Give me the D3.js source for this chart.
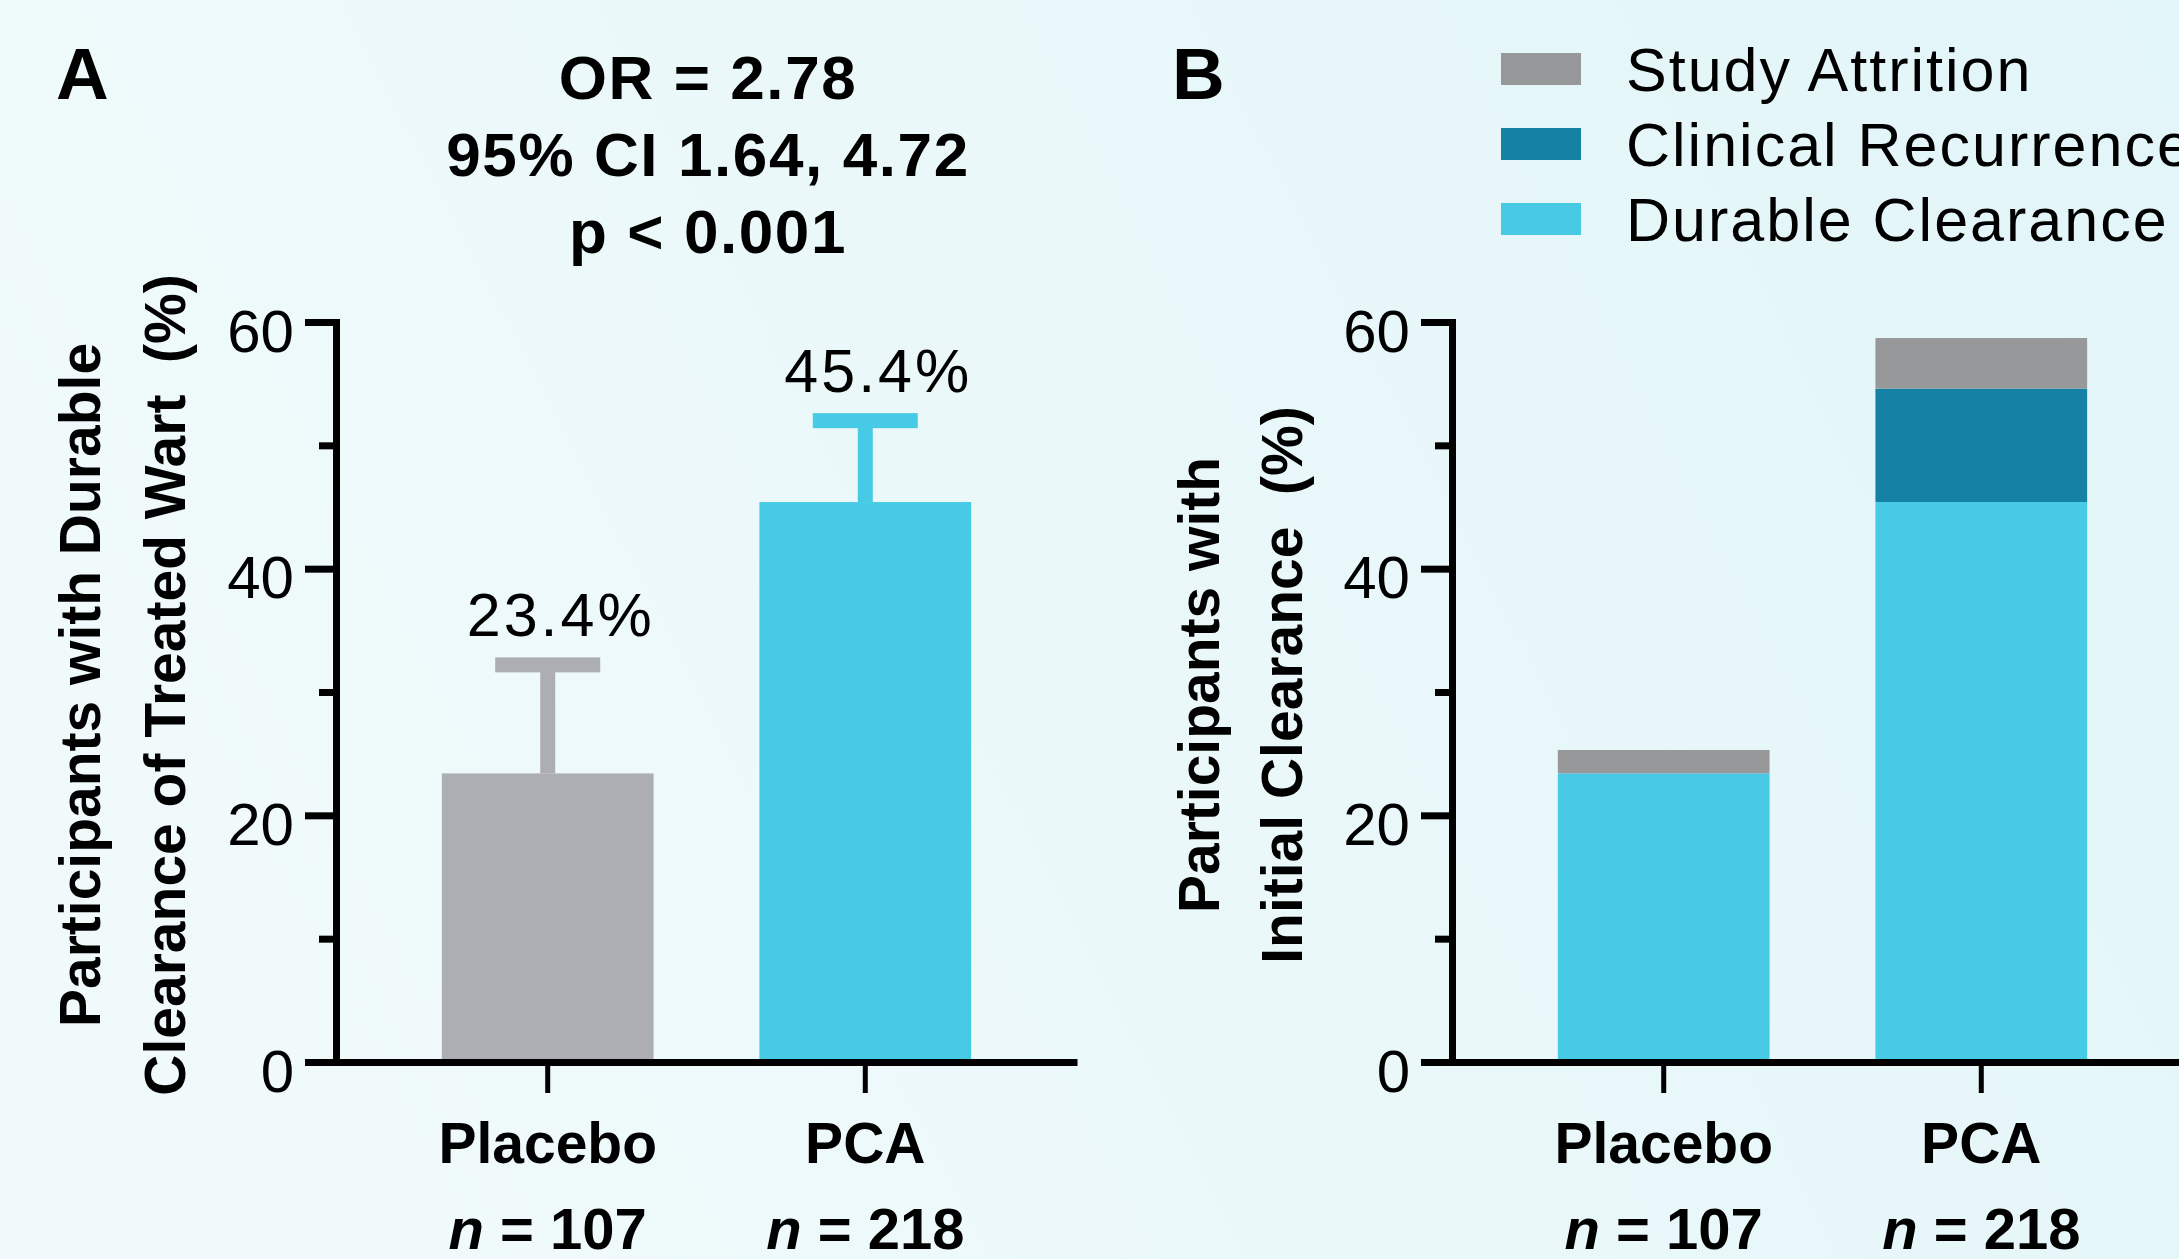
<!DOCTYPE html>
<html lang="en">
<head>
<meta charset="utf-8">
<script src="https://cdn.jsdelivr.net/npm/d3@7"></script>
<style>
body { margin: 0; background: #eaf8fa; }
svg { display: block; font-family: "Liberation Sans", Arial, sans-serif; }
</style>
</head>
<body>
<div id="chart"></div>
<script>
// data (percent of participants)
var groups = ["Placebo", "PCA"];
var groupN = ["107", "218"];
var durable = [23.4, 45.4];
var durableUpper = [32.2, 52.0];   // upper 95% CI, panel A
var recurrence = [0, 9.2];
var attrition = [1.9, 4.1];
var statLines = ["OR = 2.78", "95% CI 1.64, 4.72", "p < 0.001"];
var legendLabels = ["Study Attrition", "Clinical Recurrence", "Durable Clearance"];
var yMajor = [0, 20, 40, 60];
var yMinor = [10, 30, 50];

var W = 2179, H = 1259;
var colA = ["#adaeb3", "#46cae6"];
var colStack = {durable: "#46cae6", recurrence: "#1481a5", attrition: "#97989a"};

var svg = d3.select("#chart").append("svg")
	.attr("width", W)
	.attr("height", H);

var grad = svg.append("defs").append("linearGradient")
	.attr("id", "bg")
	.attr("x1", 0).attr("y1", 0.3).attr("x2", 1).attr("y2", 0);
grad.append("stop").attr("offset", 0).attr("stop-color", "#f0fafb");
grad.append("stop").attr("offset", 1).attr("stop-color", "#e2f5f8");
svg.append("rect").attr("width", W).attr("height", H).attr("fill", "url(#bg)");

var y = d3.scaleLinear().domain([0, 60]).range([1062, 322]);

function drawAxes(x, titleLines, titleX) {
	var x0 = x.range()[0];
	var gx = svg.append("g")
		.attr("transform", "translate(0," + y(0) + ")")
		.call(d3.axisBottom(x).tickSize(31).tickSizeOuter(0).tickPadding(0));
	gx.select(".domain").attr("stroke-width", 7);
	gx.selectAll(".tick line").attr("stroke-width", 5);
	gx.selectAll(".tick text")
		.attr("y", 101).attr("dy", 0)
		.attr("font-size", 57).attr("font-weight", "bold").attr("fill", "#000");

	// sample sizes under the category names
	var nt = svg.append("g").selectAll("text")
		.data(groups)
		.enter().append("text")
		.attr("x", function(d) { return x(d) + x.bandwidth() / 2; })
		.attr("y", 1249)
		.attr("text-anchor", "middle")
		.attr("font-size", 58)
		.attr("font-weight", "bold");
	nt.append("tspan").attr("font-style", "italic").text("n");
	nt.append("tspan").text(function(d, i) { return " = " + groupN[i]; });

	var gMinor = svg.append("g")
		.attr("transform", "translate(" + x0 + ",0)")
		.call(d3.axisLeft(y).tickValues(yMinor).tickSize(17).tickFormat(""));
	gMinor.select(".domain").remove();
	gMinor.selectAll(".tick line").attr("stroke-width", 7);

	var gy = svg.append("g")
		.attr("transform", "translate(" + x0 + ",0)")
		.call(d3.axisLeft(y).tickValues(yMajor).tickSize(31).tickSizeOuter(0).tickPadding(11));
	gy.select(".domain").attr("stroke-width", 7).attr("stroke-linecap", "square");
	gy.selectAll(".tick line").attr("stroke-width", 7);
	gy.selectAll(".tick text")
		.attr("dy", 29)
		.attr("font-size", 60)
		.attr("fill", "#000");

	svg.append("g").selectAll("text")
		.data(titleLines)
		.enter().append("text")
		.attr("transform", function(d, i) { return "translate(" + titleX[i] + ",685) rotate(-90)"; })
		.attr("text-anchor", "middle")
		.attr("font-size", 57)
		.attr("font-weight", "bold")
		.style("white-space", "pre")
		.text(function(d) { return d; });
}

// ---- panel A ----
var xA = d3.scaleBand().domain(groups).range([336, 1077]).paddingInner(1 / 3).paddingOuter(1 / 3);
var bw = xA.bandwidth();

var ebar = svg.append("g").selectAll("g")
	.data(groups)
	.enter().append("g")
	.attr("fill", function(d, i) { return colA[i]; });
ebar.append("rect")
	.attr("x", function(d) { return xA(d) + bw / 2 - 7.5; })
	.attr("y", function(d, i) { return y(durableUpper[i]); })
	.attr("width", 15)
	.attr("height", function(d, i) { return y(durable[i]) - y(durableUpper[i]); });
ebar.append("rect")
	.attr("x", function(d) { return xA(d) + bw / 2 - 52.5; })
	.attr("y", function(d, i) { return y(durableUpper[i]) - 7.5; })
	.attr("width", 105)
	.attr("height", 15);

svg.append("g").selectAll("rect")
	.data(groups)
	.enter().append("rect")
	.attr("x", function(d) { return xA(d); })
	.attr("y", function(d, i) { return y(durable[i]); })
	.attr("width", bw)
	.attr("height", function(d, i) { return y(0) - y(durable[i]); })
	.attr("fill", function(d, i) { return colA[i]; });

svg.append("g").selectAll("text")
	.data(groups)
	.enter().append("text")
	.attr("x", function(d) { return xA(d) + bw / 2 + 13; })
	.attr("y", function(d, i) { return y(durableUpper[i]) - 28.5; })
	.attr("text-anchor", "middle")
	.attr("font-size", 61)
	.attr("letter-spacing", 3)
	.text(function(d, i) { return durable[i].toFixed(1) + "%"; });

drawAxes(xA, ["Participants with Durable", "Clearance of Treated Wart  (%)"], [100, 185]);

svg.append("g").selectAll("text")
	.data(statLines)
	.enter().append("text")
	.attr("x", 708)
	.attr("y", function(d, i) { return 99 + i * 77; })
	.attr("text-anchor", "middle")
	.attr("font-size", 62)
	.attr("letter-spacing", 1.6)
	.attr("font-weight", "bold")
	.text(function(d) { return d; });

// ---- panel B ----
var xB = d3.scaleBand().domain(groups).range([1452, 2193]).paddingInner(1 / 3).paddingOuter(1 / 3);
var keys = ["durable", "recurrence", "attrition"];
var table = groups.map(function(g, i) {
	return {group: g, durable: durable[i], recurrence: recurrence[i], attrition: attrition[i]};
});
var series = d3.stack().keys(keys)(table);

svg.append("g").selectAll("g")
	.data(series)
	.enter().append("g")
	.attr("fill", function(d) { return colStack[d.key]; })
	.selectAll("rect")
	.data(function(d) { return d; })
	.enter().append("rect")
	.attr("x", function(d) { return xB(d.data.group); })
	.attr("y", function(d) { return y(d[1]); })
	.attr("width", xB.bandwidth())
	.attr("height", function(d) { return y(d[0]) - y(d[1]); });

drawAxes(xB, ["Participants with", "Initial Clearance  (%)"], [1219, 1302]);

// legend
var legKeys = ["attrition", "recurrence", "durable"];
var leg = svg.append("g").selectAll("g")
	.data(legendLabels)
	.enter().append("g")
	.attr("transform", function(d, i) { return "translate(1501," + (69 + i * 75) + ")"; });
leg.append("rect")
	.attr("y", -16)
	.attr("width", 80)
	.attr("height", 32)
	.attr("fill", function(d, i) { return colStack[legKeys[i]]; });
leg.append("text")
	.attr("x", 125)
	.attr("y", 22)
	.attr("font-size", 61)
	.attr("letter-spacing", 2)
	.text(function(d) { return d; });

// panel letters
svg.append("text").attr("x", 56).attr("y", 99).attr("font-size", 73).attr("font-weight", "bold").text("A");
svg.append("text").attr("x", 1172).attr("y", 99).attr("font-size", 73).attr("font-weight", "bold").text("B");
</script>
</body>
</html>
